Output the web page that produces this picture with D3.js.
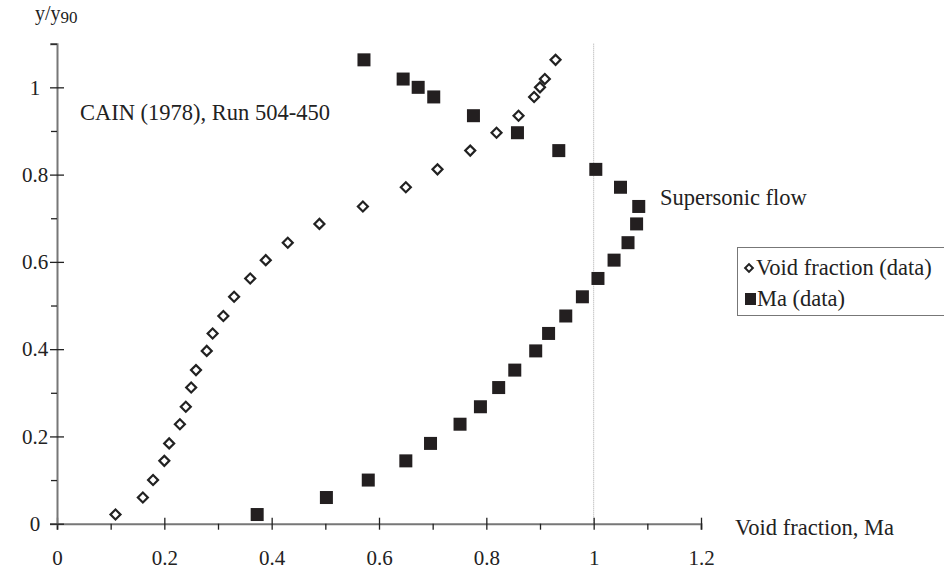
<!DOCTYPE html>
<html>
<head>
<meta charset="utf-8">
<script src="https://cdn.jsdelivr.net/npm/d3@7"></script>
<style>
  body { margin: 0; background: #fff; }
  text { font-family: "Liberation Serif", "Times New Roman", Times, serif; fill: #222; }
</style>
</head>
<body>
<div class="chart"></div>
<script>
// y/y90 positions shared by both series
var yPos = [0.021, 0.06, 0.1, 0.144, 0.184, 0.228, 0.268, 0.312, 0.352, 0.396, 0.436, 0.476, 0.52,
  0.562, 0.604, 0.644, 0.687, 0.727, 0.771, 0.812, 0.855, 0.896, 0.935, 0.978, 1.0, 1.019, 1.063];
var voidFraction = [0.109, 0.16, 0.179, 0.2, 0.209, 0.229, 0.24, 0.25, 0.259, 0.279, 0.29, 0.31, 0.33,
  0.36, 0.389, 0.43, 0.489, 0.57, 0.65, 0.709, 0.77, 0.819, 0.86, 0.889, 0.9, 0.909, 0.929];
var machNumber = [0.373, 0.502, 0.58, 0.65, 0.696, 0.751, 0.789, 0.823, 0.853, 0.892, 0.916, 0.948, 0.979,
  1.008, 1.038, 1.064, 1.08, 1.084, 1.05, 1.004, 0.935, 0.858, 0.776, 0.702, 0.673, 0.645, 0.572];

var xTicks = [0, 0.2, 0.4, 0.6, 0.8, 1, 1.2];
var xMinor = [0.1, 0.3, 0.5, 0.7, 0.9, 1.1];
var yTicks = [0, 0.2, 0.4, 0.6, 0.8, 1];
var yMinor = [0.1, 0.3, 0.5, 0.7, 0.9, 1.1];

var svgWidth = 944, svgHeight = 571;

var svg = d3.select(".chart").append("svg")
  .attr("width", svgWidth)
  .attr("height", svgHeight);

var x = d3.scaleLinear().domain([0, 1.2]).range([57, 701]);
var y = d3.scaleLinear().domain([0, 1.1]).range([523.7, 43.7]);

// dotted line at Ma = 1
svg.append("line")
  .attr("x1", x(1)).attr("x2", x(1))
  .attr("y1", y(1.1)).attr("y2", y(0))
  .attr("stroke", "#aaa")
  .attr("stroke-width", 1)
  .attr("stroke-dasharray", "1,1");

// x axis
var xAxisG = svg.append("g")
  .attr("transform", `translate(0, ${y(0)})`)
  .call(d3.axisBottom(x).tickValues(xTicks).tickSize(6).tickFormat(d3.format("")));
xAxisG.select(".domain").attr("stroke", "#777").attr("stroke-width", 2);
xAxisG.selectAll(".tick line").attr("y1", -6).attr("y2", 6).attr("stroke", "#222").attr("stroke-width", 1.3);
xAxisG.selectAll(".tick text")
  .attr("y", 41).attr("dy", 0)
  .attr("font-size", 21).attr("font-family", "Liberation Serif");

var xMinorG = svg.append("g")
  .attr("transform", `translate(0, ${y(0)})`)
  .call(d3.axisBottom(x).tickValues(xMinor).tickSize(6).tickFormat(""));
xMinorG.select(".domain").remove();
xMinorG.selectAll(".tick line").attr("stroke", "#222").attr("stroke-width", 1.3);

// y axis
var yAxisG = svg.append("g")
  .attr("transform", `translate(${x(0)}, 0)`)
  .call(d3.axisLeft(y).tickValues(yTicks).tickSize(7).tickFormat(d3.format("")));
yAxisG.select(".domain").attr("stroke", "#777").attr("stroke-width", 2);
yAxisG.selectAll(".tick line").attr("x1", -7).attr("x2", 7).attr("stroke", "#222").attr("stroke-width", 1.3);
yAxisG.selectAll(".tick text")
  .attr("x", -22).attr("text-anchor", "middle")
  .attr("font-size", 21).attr("font-family", "Liberation Serif");

var yMinorG = svg.append("g")
  .attr("transform", `translate(${x(0)}, 0)`)
  .call(d3.axisLeft(y).tickValues(yMinor).tickSize(6).tickFormat(""));
yMinorG.select(".domain").remove();
yMinorG.selectAll(".tick line").attr("stroke", "#222").attr("stroke-width", 1.3);

// points
var diamond = d3.symbol().type(d3.symbolSquare).size(50);
svg.append("g").selectAll("path")
  .data(yPos)
  .enter()
  .append("path")
  .attr("d", diamond)
  .attr("transform", (d, i) => `translate(${x(voidFraction[i])}, ${y(d)}) rotate(45)`)
  .attr("fill", "#fff")
  .attr("stroke", "#222")
  .attr("stroke-width", 2.2);

svg.append("g").selectAll("rect")
  .data(yPos)
  .enter()
  .append("rect")
  .attr("x", (d, i) => x(machNumber[i]) - 6.5)
  .attr("y", d => y(d) - 6.5)
  .attr("width", 13)
  .attr("height", 13)
  .attr("fill", "#231f20");

// labels
var yLabel = svg.append("text").attr("x", 35).attr("y", 20).attr("font-size", 20);
yLabel.append("tspan").text("y/y");
yLabel.append("tspan").attr("font-size", 17).attr("dy", 3).text("90");

svg.append("text").attr("x", 80).attr("y", 120).attr("font-size", 22.5)
  .text("CAIN (1978), Run 504-450");
svg.append("text").attr("x", 660).attr("y", 205).attr("font-size", 22.5)
  .text("Supersonic flow");
svg.append("text").attr("x", 735).attr("y", 535).attr("font-size", 22.5)
  .text("Void fraction, Ma");

// legend
var legend = svg.append("g");
legend.append("rect")
  .attr("x", 737.5).attr("y", 247.5)
  .attr("width", 220).attr("height", 68)
  .attr("fill", "#fff").attr("stroke", "#777").attr("stroke-width", 1);
legend.append("path")
  .attr("d", d3.symbol().type(d3.symbolSquare).size(30))
  .attr("transform", "translate(749, 268) rotate(45)")
  .attr("fill", "#fff").attr("stroke", "#222").attr("stroke-width", 2);
legend.append("text").attr("x", 756).attr("y", 275).attr("font-size", 22.5).text("Void fraction (data)");
legend.append("rect")
  .attr("x", 745).attr("y", 293).attr("width", 11).attr("height", 12)
  .attr("fill", "#231f20");
legend.append("text").attr("x", 757).attr("y", 306).attr("font-size", 22.5).text("Ma (data)");
</script>
</body>
</html>
